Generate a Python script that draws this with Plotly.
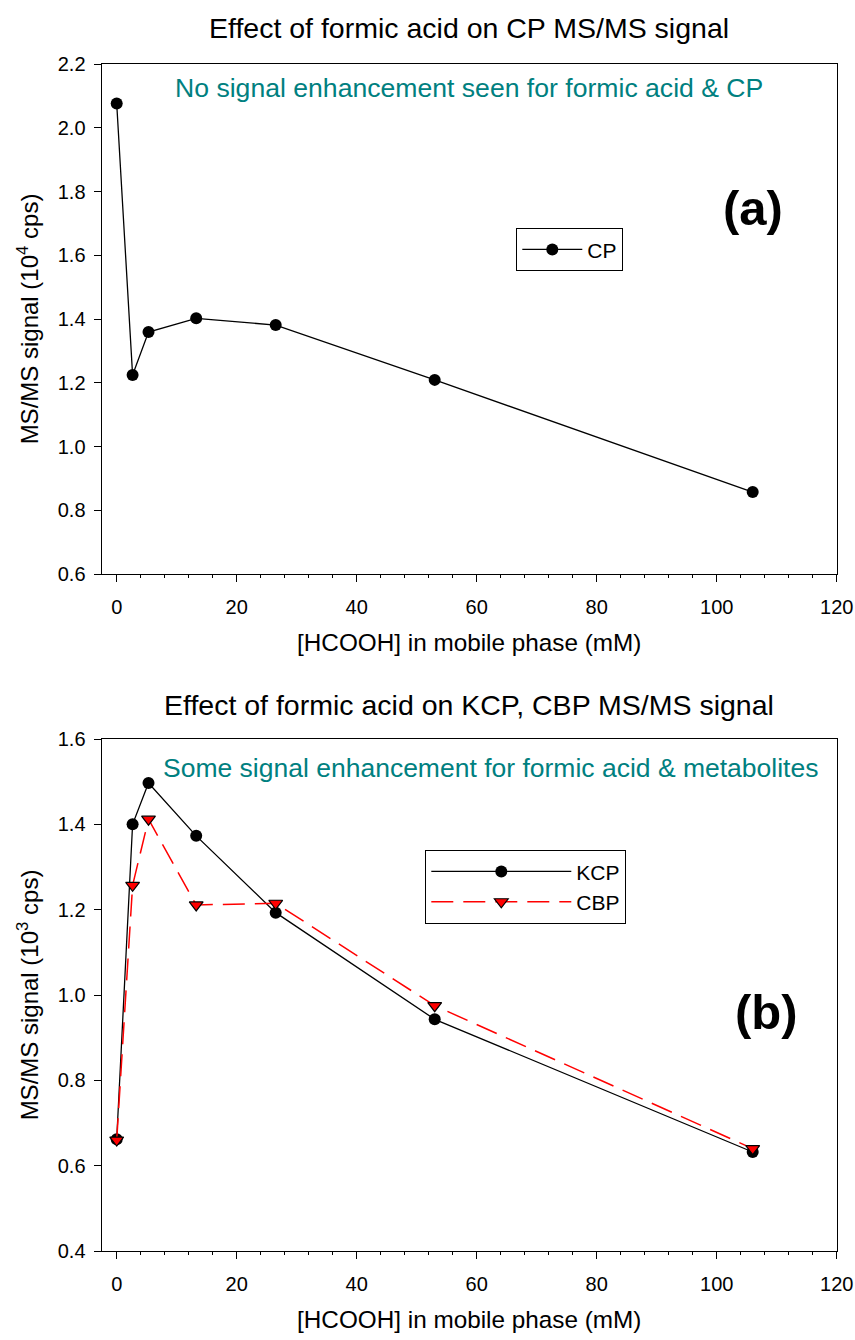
import plotly.graph_objects as go

# ---- data ----
hcooh_mM = [0, 2.65, 5.3, 13.25, 26.5, 53, 106]
cp_signal = [2.076, 1.224, 1.359, 1.402, 1.381, 1.209, 0.857]
kcp_signal = [0.662, 1.400, 1.497, 1.373, 1.193, 0.943, 0.632]
cbp_signal = [0.660, 1.257, 1.412, 1.211, 1.215, 0.975, 0.640]

x_ticks = [0, 20, 40, 60, 80, 100, 120]
y_ticks_top = [0.6, 0.8, 1.0, 1.2, 1.4, 1.6, 1.8, 2.0, 2.2]
y_ticks_bot = [0.4, 0.6, 0.8, 1.0, 1.2, 1.4, 1.6]

FONT = "Liberation Sans, Arial, sans-serif"
W, H = 855, 1340
TEAL = "#008080"

fig = go.Figure()

fig.add_trace(go.Scatter(
    x=hcooh_mM, y=cp_signal, name="CP", mode="lines+markers",
    line=dict(color="black", width=1.3),
    marker=dict(symbol="circle", size=12, color="black"),
    xaxis="x", yaxis="y", legend="legend"))

fig.add_trace(go.Scatter(
    x=hcooh_mM, y=kcp_signal, name="KCP", mode="lines+markers",
    line=dict(color="black", width=1.3),
    marker=dict(symbol="circle", size=12, color="black"),
    xaxis="x2", yaxis="y2", legend="legend2"))

fig.add_trace(go.Scatter(
    x=hcooh_mM, y=cbp_signal, name="CBP", mode="lines+markers",
    line=dict(color="red", width=1.5, dash="22px,10px"),
    marker=dict(symbol="triangle-down", size=12, color="red",
                line=dict(color="black", width=1.2)),
    xaxis="x2", yaxis="y2", legend="legend2"))

xdom = [101.7 / W, 836.7 / W]
top_dom = [1 - 574 / H, 1 - 64 / H]
bot_dom = [1 - 1251 / H, 1 - 739 / H]

def xax(domain_anchor, title):
    return dict(
        domain=xdom, anchor=domain_anchor, range=[-2.5, 120],
        automargin=False,
        tickmode="array", tickvals=x_ticks, ticktext=[str(v) for v in x_ticks],
        ticks="outside", ticklen=7, tickwidth=1, tickcolor="black",
        minor=dict(ticks="outside", ticklen=3, tickwidth=1, tickcolor="black",
                   tick0=0, dtick=4, showgrid=False),
        showline=True, linecolor="black", linewidth=1.3, mirror=True,
        showgrid=False, zeroline=False,
        tickfont=dict(family=FONT, size=20, color="black"),
        ticklabelstandoff=8,
        title=dict(text=title, font=dict(family=FONT, size=24.3, color="black"),
                   standoff=16))

def yax(domain, anchor, rng, ticks, title):
    return dict(
        domain=domain, anchor=anchor, range=rng,
        automargin=False,
        tickmode="array", tickvals=ticks, ticktext=[f"{v:.1f}" for v in ticks],
        ticks="outside", ticklen=7, tickwidth=1, tickcolor="black",
        showline=True, linecolor="black", linewidth=1.3, mirror=True,
        showgrid=False, zeroline=False,
        tickfont=dict(family=FONT, size=20, color="black"),
        ticklabelstandoff=4,
        title=dict(text=title, font=dict(family=FONT, size=24, color="black"),
                   standoff=12))

fig.update_layout(
    template="none",
    width=W, height=H, margin=dict(l=0, r=0, t=0, b=0, autoexpand=False),
    paper_bgcolor="white", plot_bgcolor="white",
    font=dict(family=FONT, color="black"),
    xaxis=xax("y", "[HCOOH] in mobile phase (mM)"),
    yaxis=yax(top_dom, "x", [0.6, 2.2], y_ticks_top, "MS/MS signal (10<sup>4</sup> cps)"),
    xaxis2=xax("y2", "[HCOOH] in mobile phase (mM)"),
    yaxis2=yax(bot_dom, "x2", [0.4, 1.6], y_ticks_bot, "MS/MS signal (10<sup>3</sup> cps)"),
    legend=dict(x=516 / W, y=1 - 228 / H, xanchor="left", yanchor="top",
                bordercolor="black", borderwidth=1.3, bgcolor="white",
                font=dict(family=FONT, size=21, color="black"), itemwidth=60),
    legend2=dict(x=425 / W, y=1 - 850 / H, xanchor="left", yanchor="top",
                 bordercolor="black", borderwidth=1.3, bgcolor="white",
                 font=dict(family=FONT, size=21, color="black"), itemwidth=140),
    showlegend=True,
)

annots = [
    dict(text="Effect of formic acid on CP MS/MS signal", x=469.2 / W, y=1 - 28 / H,
         xanchor="center", yanchor="middle", font=dict(size=28.5, color="black")),
    dict(text="Effect of formic acid on KCP, CBP MS/MS signal", x=469.2 / W, y=1 - 705 / H,
         xanchor="center", yanchor="middle", font=dict(size=28.5, color="black")),
    dict(text="No signal enhancement seen for formic acid &amp; CP", x=173 / W, y=1 - 88 / H,
         xanchor="left", yanchor="middle", font=dict(size=26.6, color=TEAL)),
    dict(text="Some signal enhancement for formic acid &amp; metabolites", x=161 / W, y=1 - 768 / H,
         xanchor="left", yanchor="middle", font=dict(size=26.5, color=TEAL)),
    dict(text="<b>(a)</b>", x=753 / W, y=1 - 208 / H, xanchor="center", yanchor="middle",
         font=dict(size=49, color="black")),
    dict(text="<b>(b)</b>", x=766 / W, y=1 - 1012 / H, xanchor="center", yanchor="middle",
         font=dict(size=49, color="black")),
]
for a in annots:
    a.update(xref="paper", yref="paper", showarrow=False)
    a["font"]["family"] = FONT
    fig.add_annotation(**a)

fig.write_html("out.html")
